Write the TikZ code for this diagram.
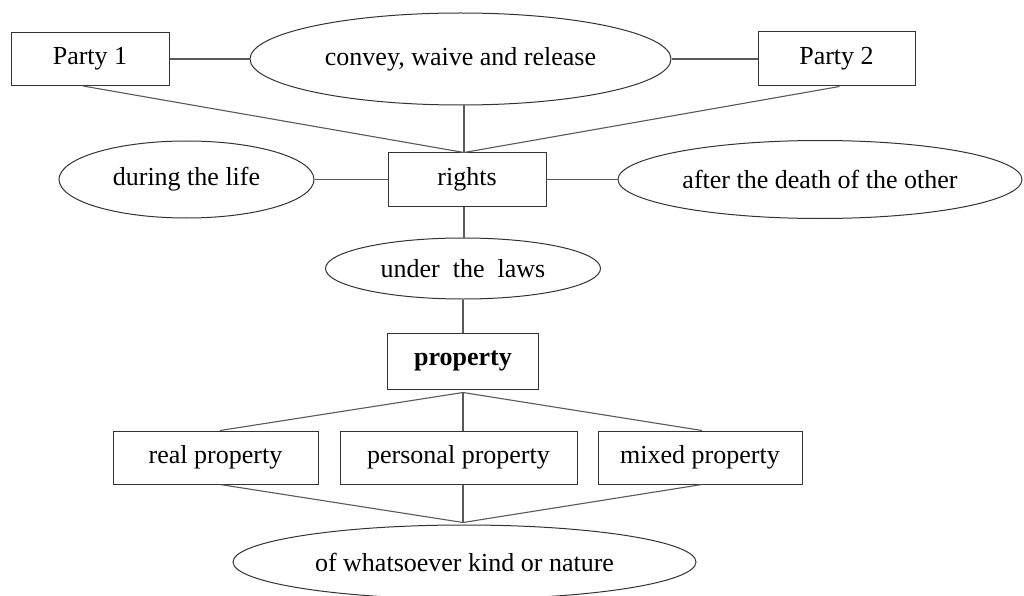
\documentclass[tikz,border=0pt]{standalone}
\usepackage{fontspec}
\setmainfont{Liberation Serif}
\usetikzlibrary{shapes.geometric}
\tikzset{
  box/.style={draw=black!80, line width=1pt, rectangle, inner sep=0pt, font=\fontsize{26}{30}\selectfont},
  oval/.style={draw=black!80, line width=1pt, ellipse, inner sep=0pt, font=\fontsize{26}{30}\selectfont},
  link/.style={draw=black!65, line width=1.1pt}
}
\begin{document}
\begin{tikzpicture}[x=1pt,y=-1pt]
\useasboundingbox (0,0) rectangle (1024,596);
\node[box, minimum width=158pt, minimum height=53pt] (p1) at (90,59) {Party 1};
\node[oval, minimum width=421pt, minimum height=92pt] (conv) at (460.5,59) {convey, waive and release};
\node[box, minimum width=157pt, minimum height=54pt] (p2) at (836.5,59) {Party 2};
\node[box, minimum width=158pt, minimum height=53pt] (rights) at (467,179.5) {rights};
\node[oval, minimum width=255pt, minimum height=77pt] (life) at (186.5,179.5) {during the life};
\node[oval, minimum width=404pt, minimum height=78pt] (death) at (820,179.5) {after the death of the other};
\node[oval, minimum width=275pt, minimum height=61pt] (laws) at (463,268.5) {under\ \ the\ \ laws};
\node[box, minimum width=151pt, minimum height=56pt] (prop) at (463,361) {\textbf{property}};
\node[box, minimum width=205pt, minimum height=53pt] (real) at (215.5,457.5) {real property};
\node[box, minimum width=237pt, minimum height=53pt] (pers) at (458.5,457.5) {personal property};
\node[box, minimum width=204pt, minimum height=53pt] (mixed) at (700,457.5) {mixed property};
\node[oval, minimum width=463pt, minimum height=74pt] (whats) at (464.5,562) {of whatsoever kind or nature};
\coordinate (join) at ([xshift=-1.5pt,yshift=2pt]whats.north);

\draw[link] (p1.east) -- (conv.west);
\draw[link] (conv.east) -- (p2.west);
\draw[link] ([xshift=-7pt]p1.south) -- ([xshift=-3pt]rights.north);
\draw[link] ([xshift=3pt]p2.south) -- ([xshift=-3pt]rights.north);
\draw[link] ([xshift=3.5pt]conv.south) -- ([xshift=-3pt]rights.north);
\draw[link] (life.east) -- (rights.west);
\draw[link] (rights.east) -- (death.west);
\draw[link] ([xshift=-3pt]rights.south) -- ([xshift=1pt]laws.north);
\draw[link] (laws.south) -- (prop.north);
\draw[link] ([yshift=-3pt]prop.south) -- ([xshift=4.5pt]real.north);
\draw[link] ([yshift=-3pt]prop.south) -- ([xshift=4.5pt]pers.north);
\draw[link] ([yshift=-3pt]prop.south) -- ([xshift=2pt]mixed.north);
\draw[link] ([xshift=4.5pt]real.south) -- (join);
\draw[link] ([xshift=4.5pt]pers.south) -- (join);
\draw[link] ([xshift=2pt]mixed.south) -- (join);
\end{tikzpicture}
\end{document}
